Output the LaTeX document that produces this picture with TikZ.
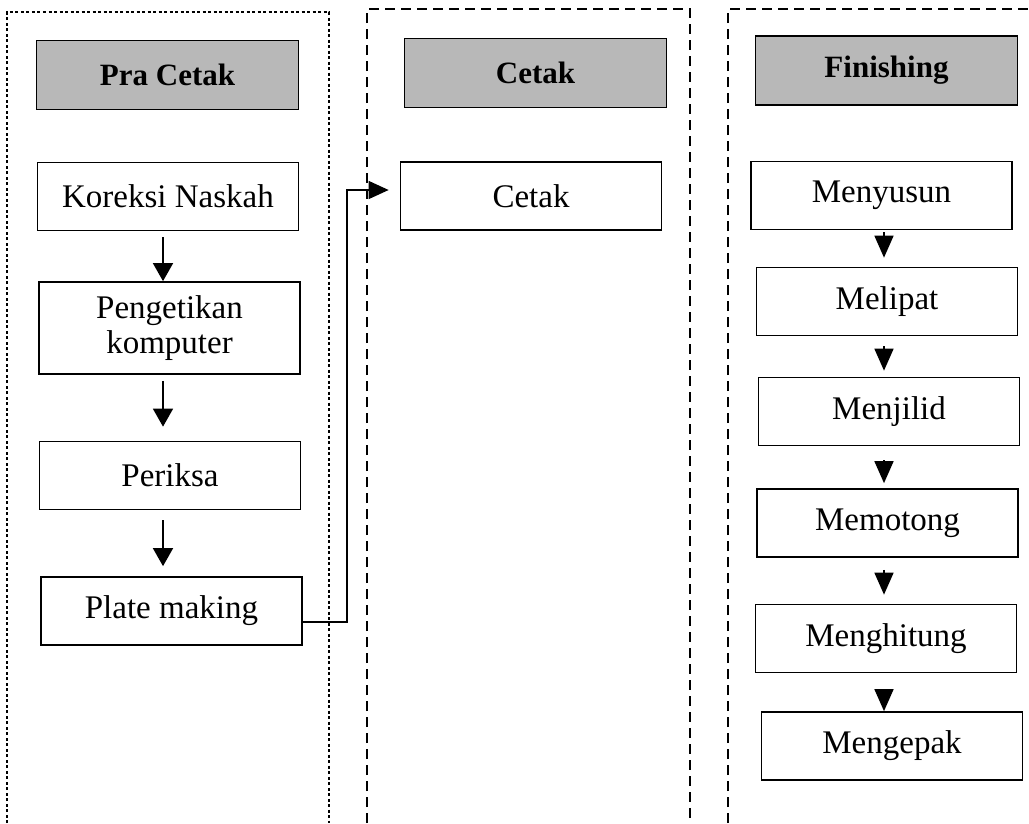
\documentclass[tikz,border=0pt]{standalone}
\usepackage{fontspec}
\setmainfont{Liberation Serif}
\usetikzlibrary{arrows.meta,positioning}
\newcommand\stepfont{\fontsize{33}{35}\selectfont}
\newcommand\hdfont{\fontsize{31}{34}\selectfont\bfseries}

\begin{document}
\begin{tikzpicture}[x=1pt,y=-1pt,
   proc/.style={draw,line width=1.7pt,minimum width=261pt,minimum height=68pt,inner sep=0pt,font=\stepfont,align=center},
   head/.style={draw,line width=1.9pt,fill=black!28,minimum width=262pt,minimum height=69pt,inner sep=0pt,font=\hdfont},
   flow/.style={line width=1.6pt,-{Triangle[length=18pt,width=20pt]}},
   rflow/.style={line width=1.6pt,-{Triangle[length=22pt,width=19pt]}},
   dotpanel/.style={line width=1.3pt,dash pattern=on 3pt off 2.5pt},
   dashpanel/.style={line width=2.4pt,dash pattern=on 10pt off 6pt}]
   \useasboundingbox (0,0) rectangle (1029,823);
   % panels
   \draw[dotpanel] (7,823) |- (329,12) -- (329,823);
   \draw[dashpanel] (367,823) |- (690,9) -- (690,823);
   \draw[dashpanel] (728,823) |- (1040,9);
   % headers
   \node[head] (hpra)    at (167.5,75)  {Pra Cetak};
   \node[head] (hcetak)  at (535.5,73)  {Cetak};
   \node[head] (hfinish) at (886.5,70.5) {Finishing};
   % pra cetak
   \node[proc] (koreksi) at (168,196.5) {Koreksi Naskah};
   \node[proc,minimum height=92pt] (ketik) at (169.5,328) {Pengetikan\\komputer};
   \node[proc] (periksa) at (170,475.5) {Periksa};
   \node[proc] (plate)   at (171.5,611) {Plate making};
   % cetak
   \node[proc] (cetak)   at (531,196)   {Cetak};
   % finishing
   \node[proc] (susun)   at (881.5,195.5) {Menyusun};
   \node[proc] (lipat)   at (887,301.5)   {Melipat};
   \node[proc] (jilid)   at (889,411.5)   {Menjilid};
   \node[proc] (potong)  at (887.5,523)   {Memotong};
   \node[proc] (hitung)  at (886,638.5)   {Menghitung};
   \node[proc] (pak)     at (892,746)     {Mengepak};
   \coordinate (lx) at (163,0);
   \coordinate (ax) at (884,0);
   \coordinate (bend) at (347,190);
   \draw[flow,shorten <=6pt] (koreksi.south -| lx) -- (ketik.north -| lx);
   \draw[flow,shorten <=6pt,shorten >=14pt] (ketik.south -| lx) -- (periksa.north -| lx);
   \draw[flow,shorten <=10pt,shorten >=10pt] (periksa.south -| lx) -- (plate.north -| lx);
   \draw[line width=1.4pt,-{Triangle[length=20pt,width=18pt]},shorten >=11pt]
      ([yshift=-11pt]plate.east) -| (bend) -- (bend -| cetak.west);
   \draw[rflow,shorten <=2pt,shorten >=9pt] (susun.south -| ax) -- (lipat.north -| ax);
   \draw[rflow,shorten <=10pt,shorten >=6pt] (lipat.south -| ax) -- (jilid.north -| ax);
   \draw[rflow,shorten <=14pt,shorten >=5pt] (jilid.south -| ax) -- (potong.north -| ax);
   \draw[rflow,shorten <=12pt,shorten >=9pt] (potong.south -| ax) -- (hitung.north -| ax);
   \draw[rflow,shorten <=16pt] (hitung.south -| ax) -- (pak.north -| ax);
\end{tikzpicture}
\end{document}
